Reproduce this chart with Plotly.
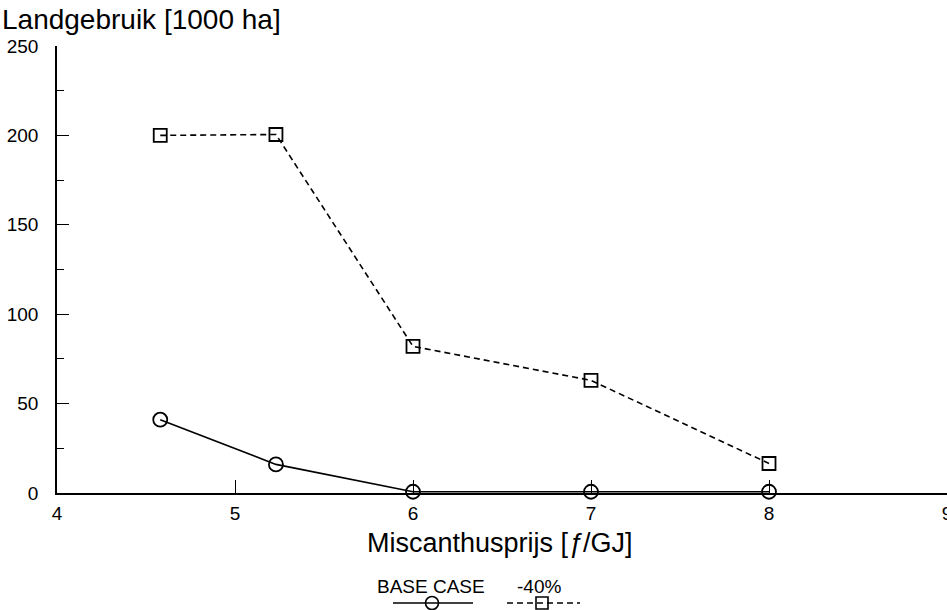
import plotly.graph_objects as go

# Miscanthus price [f/GJ] and land use [1000 ha]
price = [4.58, 5.23, 6.0, 7.0, 8.0]
base_case = [41, 16, 0.7, 0.7, 0.7]
minus_40 = [200, 200.5, 82, 63, 16.5]

x_ticks = [4, 5, 6, 7, 8, 9]
y_ticks = [0, 50, 100, 150, 200, 250]

FONT = "Liberation Sans, Arial, sans-serif"
W, H = 947, 610
TOP = 46
plot_h = H - TOP
axis_y = 493  # pixel row of the x-axis
main_bottom = (H - axis_y) / plot_h

# helper axis for the legend samples: y=0 sits on pixel row 603
leg_row = 603
leg_frac = (H - leg_row) / plot_h

fig = go.Figure()

fig.add_trace(go.Scatter(
    x=price, y=base_case, mode="lines+markers", name="BASE CASE",
    line=dict(color="black", width=1.6),
    marker=dict(symbol="circle-open", size=14, color="black", line=dict(width=1.8)),
    cliponaxis=False,
))
fig.add_trace(go.Scatter(
    x=price, y=minus_40, mode="lines+markers", name="-40%",
    line=dict(color="black", width=1.6, dash="6px,4px"),
    marker=dict(symbol="square-open", size=13, color="black", line=dict(width=1.8)),
    cliponaxis=False,
))

# legend samples
fig.add_trace(go.Scatter(
    x=[393, 432, 473], y=[0, 0, 0], mode="lines", xaxis="x2", yaxis="y2",
    line=dict(color="black", width=1.3), showlegend=False, hoverinfo="skip", cliponaxis=False,
))
fig.add_trace(go.Scatter(
    x=[432], y=[0], mode="markers", xaxis="x2", yaxis="y2",
    marker=dict(symbol="circle-open", size=13, color="black", line=dict(width=1.6)),
    showlegend=False, hoverinfo="skip", cliponaxis=False,
))
fig.add_trace(go.Scatter(
    x=[507, 542, 580], y=[0, 0, 0], mode="lines", xaxis="x2", yaxis="y2",
    line=dict(color="black", width=1.3, dash="6px,4px"), showlegend=False, hoverinfo="skip",
    cliponaxis=False,
))
fig.add_trace(go.Scatter(
    x=[542], y=[0], mode="markers", xaxis="x2", yaxis="y2",
    marker=dict(symbol="square-open", size=12, color="black", line=dict(width=1.6)),
    showlegend=False, hoverinfo="skip", cliponaxis=False,
))

fig.update_layout(
    template="none",
    width=W, height=H,
    margin=dict(l=57, r=0, t=TOP, b=0, autoexpand=False),
    paper_bgcolor="white", plot_bgcolor="white",
    showlegend=False,
    font=dict(family=FONT, color="black", size=19),
    xaxis=dict(
        range=[4, 9], tickvals=x_ticks, ticktext=[str(v) for v in x_ticks],
        showgrid=False, zeroline=False, showline=True, linecolor="black", linewidth=1.6,
        ticks="inside", ticklen=13, tickwidth=1.4, tickcolor="black",
        tickfont=dict(size=19), anchor="y", automargin=False,
        ticklabeloverflow="allow", ticklabelstandoff=2,
    ),
    yaxis=dict(
        range=[0, 250], tickvals=y_ticks, ticktext=[str(v) for v in y_ticks],
        domain=[main_bottom, 1],
        showgrid=False, zeroline=False, showline=True, linecolor="black", linewidth=1.6,
        ticks="inside", ticklen=12, tickwidth=1.4, tickcolor="black",
        minor=dict(tickvals=[25, 75, 125, 175, 225], ticks="inside", ticklen=7,
                   tickwidth=1.4, tickcolor="black"),
        tickfont=dict(size=19), ticklabelstandoff=13, automargin=False,
        ticklabeloverflow="allow",
    ),
    xaxis2=dict(range=[57, 947], domain=[0, 1], visible=False, anchor="y2",
                fixedrange=True, automargin=False),
    yaxis2=dict(range=[-1, 1], domain=[0, 2 * leg_frac], visible=False,
                anchor="x2", fixedrange=True, automargin=False),
)

fig.add_annotation(
    text="Landgebruik [1000 ha]", xref="paper", yref="paper",
    x=-57 / (W - 57), y=1 + 27 / plot_h, xanchor="left", yanchor="middle",
    showarrow=False, font=dict(size=28),
)
fig.add_annotation(
    text="Miscanthusprijs [<i>ƒ</i>/GJ]", xref="paper", yref="paper",
    x=(500 - 57) / (W - 57), y=(H - 543) / plot_h, xanchor="center", yanchor="middle",
    showarrow=False, font=dict(size=27),
)
fig.add_annotation(
    text="BASE CASE", xref="paper", yref="paper",
    x=(431 - 57) / (W - 57), y=(H - 586) / plot_h, xanchor="center", yanchor="middle",
    showarrow=False, font=dict(size=19),
)
fig.add_annotation(
    text="-40%", xref="paper", yref="paper",
    x=(539 - 57) / (W - 57), y=(H - 586) / plot_h, xanchor="center", yanchor="middle",
    showarrow=False, font=dict(size=19),
)

fig.write_html("out.html")
